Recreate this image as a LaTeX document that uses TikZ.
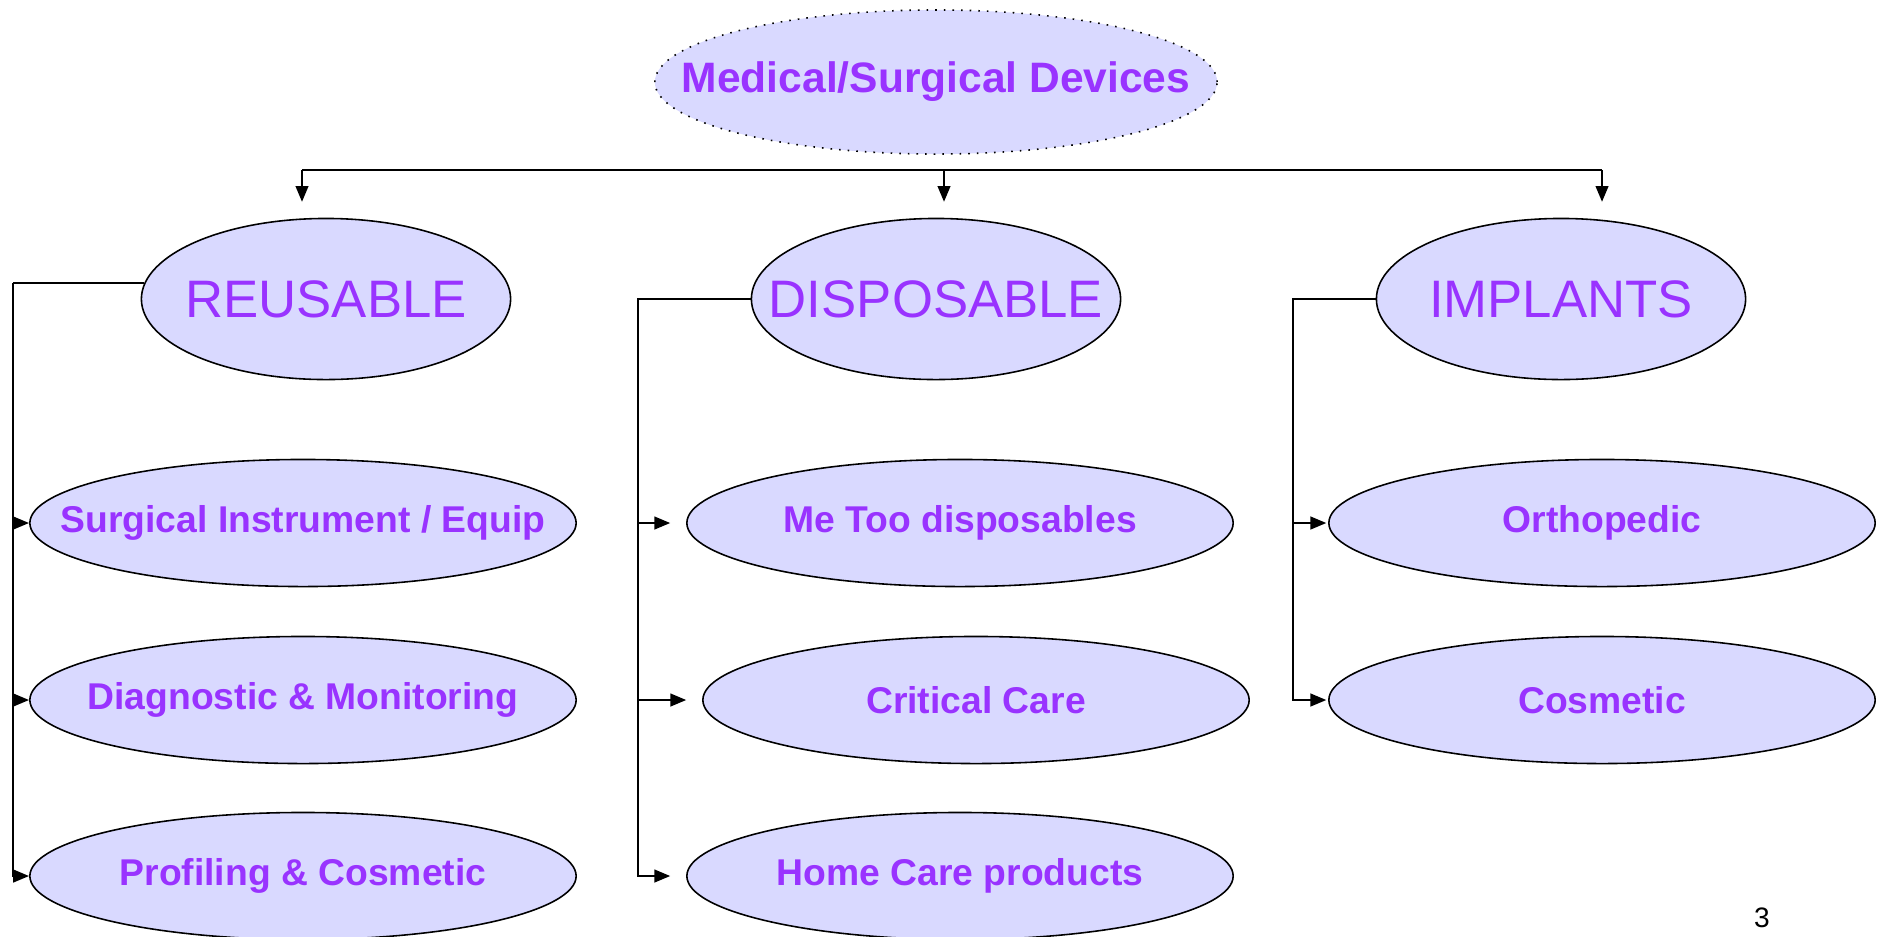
\documentclass[tikz,border=0pt]{standalone}
\usepackage{fontspec}
\setmainfont{Liberation Sans}
\usetikzlibrary{shapes, arrows.meta, positioning}
\definecolor{devfill}{RGB}{217,217,255}
\definecolor{devtext}{RGB}{153,51,255}
\tikzset{
  devnode/.style={ellipse, draw=black, line width=0.45pt, fill=devfill, text=devtext, inner xsep=-2cm, inner ysep=0pt},
  rootnode/.style={devnode, dotted, minimum width=5.62cm, minimum height=1.44cm, font=\fontsize{12.1}{14}\selectfont\bfseries},
  groupnode/.style={devnode, minimum width=3.69cm, minimum height=1.61cm, font=\fontsize{15}{18}\selectfont},
  itemnode/.style={devnode, minimum width=5.46cm, minimum height=1.27cm, font=\fontsize{10.6}{13}\selectfont\bfseries},
  link/.style={line width=0.6pt},
  linkarrow/.style={link, -{Triangle[length=4.5pt,width=3.6pt]}}
}

\begin{document}
\begin{tikzpicture}[x=0.01cm, y=-0.01cm]
  \useasboundingbox (0,0) rectangle (1877,936);

  \node[rootnode] (root) at (936,82) {Medical/Surgical Devices};

  \node[groupnode] (reusable) at (326,299) {REUSABLE};
  \node[groupnode] (disposable) at (936,299) {DISPOSABLE};
  \node[groupnode] (implants) at (1561,299) {IMPLANTS};

  \node[itemnode] (surgical) at (303,523) {Surgical Instrument / Equip};
  \node[itemnode] (diagnostic) at (303,700) {Diagnostic \& Monitoring};
  \node[itemnode] (profiling) at (303,876) {Profiling \& Cosmetic};

  \node[itemnode] (metoo) at (960,523) {Me Too disposables};
  \node[itemnode] (critical) at (976,700) {Critical Care};
  \node[itemnode] (homecare) at (960,876) {Home Care products};

  \node[itemnode] (orthopedic) at (1602,523) {Orthopedic};
  \node[itemnode] (cosmetic) at (1602,700) {Cosmetic};

  \node[font=\fontsize{8}{10}\selectfont] (pagenum) at (1762,918) {3};

  % top bus
  \coordinate (busL) at (302,170);
  \coordinate (busM) at (944,170);
  \coordinate (busR) at (1602,170);
  \draw[link] (busL) -- (busR);
  \draw[linkarrow, shorten >=4.5pt] (busL) -- (busL |- reusable.north);
  \draw[linkarrow, shorten >=4.5pt] (busM) -- (busM |- disposable.north);
  \draw[linkarrow, shorten >=4.5pt] (busR) -- (busR |- implants.north);

  % branches
  \coordinate (reuX) at (13,0);
  \coordinate (dispBus) at (638,299);
  \coordinate (implBus) at (1293,299);
  \draw[link] (reusable.175) -- (reusable.175 -| reuX);
  \foreach \c in {surgical, diagnostic, profiling}
    \draw[linkarrow] (reusable.175 -| reuX) |- (\c.west);
  \foreach \c in {metoo, critical, homecare}
    \draw[linkarrow, shorten >=4.5pt] (disposable.west) -| (dispBus |- \c.west) -- (\c.west);
  \foreach \c in {orthopedic, cosmetic}
    \draw[linkarrow, shorten >=0.5pt] (implants.west) -| (implBus |- \c.west) -- (\c.west);
\end{tikzpicture}
\end{document}
